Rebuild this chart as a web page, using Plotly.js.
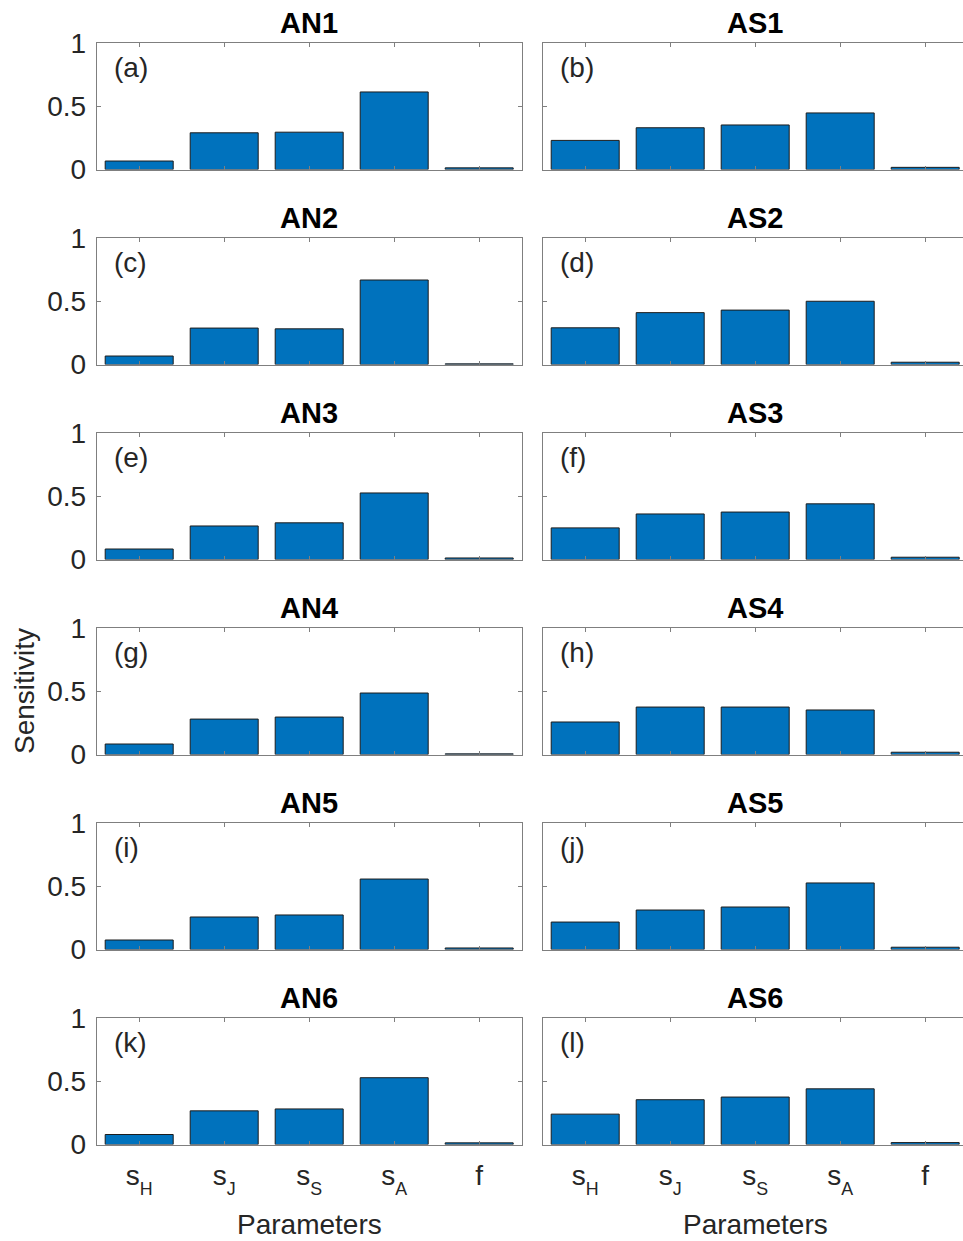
<!DOCTYPE html>
<html>
<head>
<meta charset="utf-8">
<script src="https://cdn.plot.ly/plotly-3.0.1.min.js"></script>
<style>
html,body{margin:0;padding:0;overflow:hidden;background:#fff;}
#plot{width:970px;height:1241px;}
</style>
</head>
<body>
<div id="plot"></div>
<script>
// ---- data ----
const categories = ['sH', 'sJ', 'sS', 'sA', 'f'];
const tickLabels = [
  's<sub><sub><span style="font-size:130%">H</span></sub></sub>',
  's<sub><sub><span style="font-size:130%">J</span></sub></sub>',
  's<sub><sub><span style="font-size:130%">S</span></sub></sub>',
  's<sub><sub><span style="font-size:130%">A</span></sub></sub>',
  'f'
];
const panelTitles = ['AN1', 'AS1', 'AN2', 'AS2', 'AN3', 'AS3', 'AN4', 'AS4', 'AN5', 'AS5', 'AN6', 'AS6'];
const panelLetters = ['(a)', '(b)', '(c)', '(d)', '(e)', '(f)', '(g)', '(h)', '(i)', '(j)', '(k)', '(l)'];
const AN1 = [0.067, 0.290, 0.295, 0.613, 0.013];
const AS1 = [0.230, 0.330, 0.352, 0.447, 0.017];
const AN2 = [0.067, 0.288, 0.282, 0.668, 0.005];
const AS2 = [0.290, 0.410, 0.430, 0.500, 0.018];
const AN3 = [0.083, 0.265, 0.290, 0.526, 0.012];
const AS3 = [0.250, 0.360, 0.375, 0.440, 0.018];
const AN4 = [0.083, 0.280, 0.296, 0.486, 0.005];
const AS4 = [0.257, 0.375, 0.375, 0.352, 0.018];
const AN5 = [0.075, 0.257, 0.273, 0.557, 0.012];
const AS5 = [0.217, 0.312, 0.336, 0.526, 0.018];
const AN6 = [0.079, 0.266, 0.281, 0.528, 0.013];
const AS6 = [0.240, 0.354, 0.375, 0.440, 0.015];
const series = [AN1, AS1, AN2, AS2, AN3, AS3, AN4, AS4, AN5, AS5, AN6, AS6];
const yTicks = [0, 0.5, 1];
const yTickText = ['0', '0.5', '1'];

// ---- layout geometry (pixels) ----
const W = 970, H = 1241;
const colLeft = [96.7, 542.7];
const colWidth = 425;
const rowTop = [43, 238, 433, 628, 823, 1018];
const rowHeight = 126.5;
const FONT = 'Liberation Sans, Arial, Helvetica, sans-serif';
const FS = 28;
const textColor = '#262626';
const axisColor = '#7f7f7f';

const traces = [];
const layout = {
  width: W, height: H,
  margin: {l: 0, r: 0, t: 0, b: 0},
  paper_bgcolor: '#fff', plot_bgcolor: '#fff',
  showlegend: false,
  bargap: 0.2,
  font: {family: FONT, size: FS, color: textColor},
  annotations: []
};

for (let i = 0; i < 12; i++) {
  const row = Math.floor(i / 2), col = i % 2;
  const n = i + 1;
  const xa = 'xaxis' + (n === 1 ? '' : n), ya = 'yaxis' + (n === 1 ? '' : n);
  const xr = 'x' + (n === 1 ? '' : n), yr = 'y' + (n === 1 ? '' : n);
  const x0 = colLeft[col] / W, x1 = (colLeft[col] + colWidth) / W;
  const yTopPx = rowTop[row], yBotPx = rowTop[row] + rowHeight;
  const y0 = (H - yBotPx) / H, y1 = (H - yTopPx) / H;

  traces.push({
    type: 'bar', x: categories, y: series[i],
    xaxis: xr, yaxis: yr,
    marker: {color: '#0072BD', line: {color: '#1c1c1c', width: 1}},
    hoverinfo: 'x+y'
  });

  layout[xa] = {
    domain: [x0, x1], anchor: yr,
    type: 'category', categoryorder: 'array', categoryarray: categories,
    range: [-0.5, 4.5],
    tickmode: 'array', tickvals: categories, ticktext: tickLabels,
    showticklabels: row === 5,
    ticks: 'inside', ticklen: 4, tickwidth: 1, tickcolor: axisColor,
    showline: true, linecolor: axisColor, linewidth: 1, mirror: 'ticks',
    showgrid: false, zeroline: false, fixedrange: true,
    ticklabelstandoff: 6,
    tickfont: {family: FONT, size: FS, color: textColor}
  };
  layout[ya] = {
    domain: [y0, y1], anchor: xr,
    range: [0, 1],
    tickmode: 'array', tickvals: yTicks, ticktext: yTickText,
    showticklabels: col === 0,
    ticks: 'inside', ticklen: 4, tickwidth: 1, tickcolor: axisColor,
    showline: true, linecolor: axisColor, linewidth: 1, mirror: 'ticks',
    showgrid: false, zeroline: false, fixedrange: true,
    ticklabelstandoff: 4,
    tickfont: {family: FONT, size: FS, color: textColor}
  };

  // panel title
  layout.annotations.push({
    xref: 'paper', yref: 'paper',
    x: (colLeft[col] + colWidth / 2) / W, y: (H - (yTopPx - 20)) / H,
    xanchor: 'center', yanchor: 'middle', showarrow: false,
    text: '<b>' + panelTitles[i] + '</b>',
    font: {family: FONT, size: 29, color: '#000'}
  });
  // panel letter
  layout.annotations.push({
    xref: xr + ' domain', yref: yr + ' domain',
    x: 0.035, y: 0.81, xanchor: 'left', yanchor: 'middle', showarrow: false,
    text: panelLetters[i],
    font: {family: FONT, size: FS, color: textColor}
  });
}

// x-axis labels
for (let col = 0; col < 2; col++) {
  layout.annotations.push({
    xref: 'paper', yref: 'paper',
    x: (colLeft[col] + colWidth / 2) / W, y: (H - 1224) / H,
    xanchor: 'center', yanchor: 'middle', showarrow: false,
    text: 'Parameters',
    font: {family: FONT, size: FS, color: textColor}
  });
}
// y-axis label
layout.annotations.push({
  xref: 'paper', yref: 'paper',
  x: 24 / W, y: (H - 691) / H,
  xanchor: 'center', yanchor: 'middle', showarrow: false, textangle: -90,
  text: 'Sensitivity',
  font: {family: FONT, size: FS, color: textColor}
});

Plotly.newPlot('plot', traces, layout, {staticPlot: true, displayModeBar: false});
</script>
</body>
</html>
